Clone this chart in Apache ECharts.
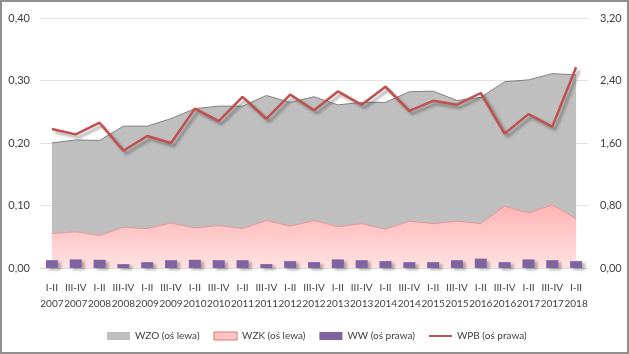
<!DOCTYPE html>
<html>
<head>
    <meta charset="utf-8">
    <title>WZO WZK WW WPB</title>
    <style>
        html, body { margin: 0; padding: 0; background: #fff; }
        #main { width: 629px; height: 354px; box-sizing: border-box; border: 2px solid #8f8f8f; }
    </style>
</head>
<body>
<div id="main"></div>
<script type="text/javascript" src="https://cdn.jsdelivr.net/npm/echarts@6/dist/echarts.min.js"></script>
<script>
    // --- dane
    var periods = ['I-II\n2007', 'III-IV\n2007', 'I-II\n2008', 'III-IV\n2008', 'I-II\n2009', 'III-IV\n2009',
        'I-II\n2010', 'III-IV\n2010', 'I-II\n2011', 'III-IV\n2011', 'I-II\n2012', 'III-IV\n2012',
        'I-II\n2013', 'III-IV\n2013', 'I-II\n2014', 'III-IV\n2014', 'I-II\n2015', 'III-IV\n2015',
        'I-II\n2016', 'III-IV\n2016', 'I-II\n2017', 'III-IV\n2017', 'I-II\n2018'];
    var wzo = [0.200, 0.205, 0.204, 0.227, 0.227, 0.239, 0.255, 0.259, 0.259, 0.276, 0.265, 0.274,
        0.261, 0.265, 0.265, 0.282, 0.283, 0.268, 0.273, 0.298, 0.301, 0.311, 0.309];
    var wzk = [0.055, 0.058, 0.052, 0.065, 0.063, 0.072, 0.064, 0.068, 0.063, 0.076, 0.067, 0.076,
        0.066, 0.071, 0.062, 0.075, 0.071, 0.075, 0.071, 0.099, 0.088, 0.101, 0.079];
    var ww = [0.10, 0.11, 0.105, 0.05, 0.075, 0.10, 0.105, 0.10, 0.10, 0.05, 0.088, 0.075,
        0.11, 0.10, 0.088, 0.075, 0.075, 0.10, 0.12, 0.075, 0.11, 0.10, 0.088];
    var wpb = [1.78, 1.71, 1.86, 1.50, 1.69, 1.60, 2.04, 1.88, 2.19, 1.91, 2.22, 2.02,
        2.26, 2.09, 2.32, 2.01, 2.14, 2.09, 2.24, 1.72, 1.97, 1.81, 2.57];

    var fmt = function (v) { return v.toFixed(2).replace('.', ','); };
    var txt = { color: '#404040', fontSize: 11, fontFamily: 'Lato' };

    var chart = echarts.init(document.getElementById('main'));
    var option = {
        animation: false,
        textStyle: txt,
        grid: { left: 38, right: 39, top: 16, bottom: 84 },
        legend: {
            top: 324,
            left: 100,
            itemWidth: 23,
            itemHeight: 8,
            itemGap: 14,
            textStyle: { color: '#404040', fontSize: 10, fontFamily: 'Lato' },
            data: [
                { name: 'WZO (oś lewa)', icon: 'rect' },
                { name: 'WZK (oś lewa)', icon: 'rect', itemStyle: { color: '#ffc4c4', borderColor: '#e07070', borderWidth: 1 } },
                { name: 'WW (oś prawa)', icon: 'rect' },
                { name: 'WPB (oś prawa)', icon: 'path://M0,0H23V2H0Z' }
            ]
        },
        xAxis: {
            type: 'category',
            data: periods,
            boundaryGap: true,
            axisLine: { lineStyle: { color: '#d9d9d9' } },
            axisTick: { show: false },
            axisLabel: { interval: 0, margin: 12, lineHeight: 16, color: '#404040', fontSize: 10, fontFamily: 'Lato' }
        },
        yAxis: [
            {
                type: 'value', min: 0, max: 0.4, interval: 0.1,
                axisLabel: { formatter: fmt, margin: 10, color: '#404040', fontSize: 11, fontFamily: 'Lato' },
                splitLine: { lineStyle: { color: '#e3e3e3' } }
            },
            {
                type: 'value', min: 0, max: 3.2, interval: 0.8,
                axisLabel: { formatter: fmt, margin: 12, color: '#404040', fontSize: 11, fontFamily: 'Lato' },
                splitLine: { show: false }
            }
        ],
        series: [
            {
                name: 'WZO (oś lewa)', type: 'line', data: wzo, yAxisIndex: 0,
                symbol: 'none', z: 1,
                lineStyle: { color: '#7f7f7f', width: 1 },
                itemStyle: { color: '#bfbfbf' },
                areaStyle: { color: '#bfbfbf', opacity: 1 }
            },
            {
                name: 'WZK (oś lewa)', type: 'line', data: wzk, yAxisIndex: 0,
                symbol: 'none', z: 2,
                lineStyle: { color: '#e39a9a', width: 1 },
                itemStyle: { color: '#ffc4c4' },
                areaStyle: {
                    opacity: 1,
                    color: new echarts.graphic.LinearGradient(0, 0, 0, 1, [
                        { offset: 0, color: '#ffb4b4' },
                        { offset: 1, color: '#ffe2e2' }
                    ])
                }
            },
            {
                name: 'WW (oś prawa)', type: 'bar', data: ww, yAxisIndex: 1,
                barWidth: 12, z: 3,
                itemStyle: {
                    color: '#8064a2',
                    shadowColor: 'rgba(0,0,0,0.3)', shadowBlur: 3, shadowOffsetX: 3, shadowOffsetY: 2
                }
            },
            {
                name: 'WPB (oś prawa)', type: 'line', data: wpb, yAxisIndex: 1,
                symbol: 'none', z: 4,
                itemStyle: { color: '#c0504d' },
                lineStyle: {
                    color: '#c0504d', width: 2.5,
                    shadowColor: 'rgba(0,0,0,0.35)', shadowBlur: 3, shadowOffsetX: 3, shadowOffsetY: 3
                }
            }
        ]
    };
    chart.setOption(option);
</script>
</body>
</html>
